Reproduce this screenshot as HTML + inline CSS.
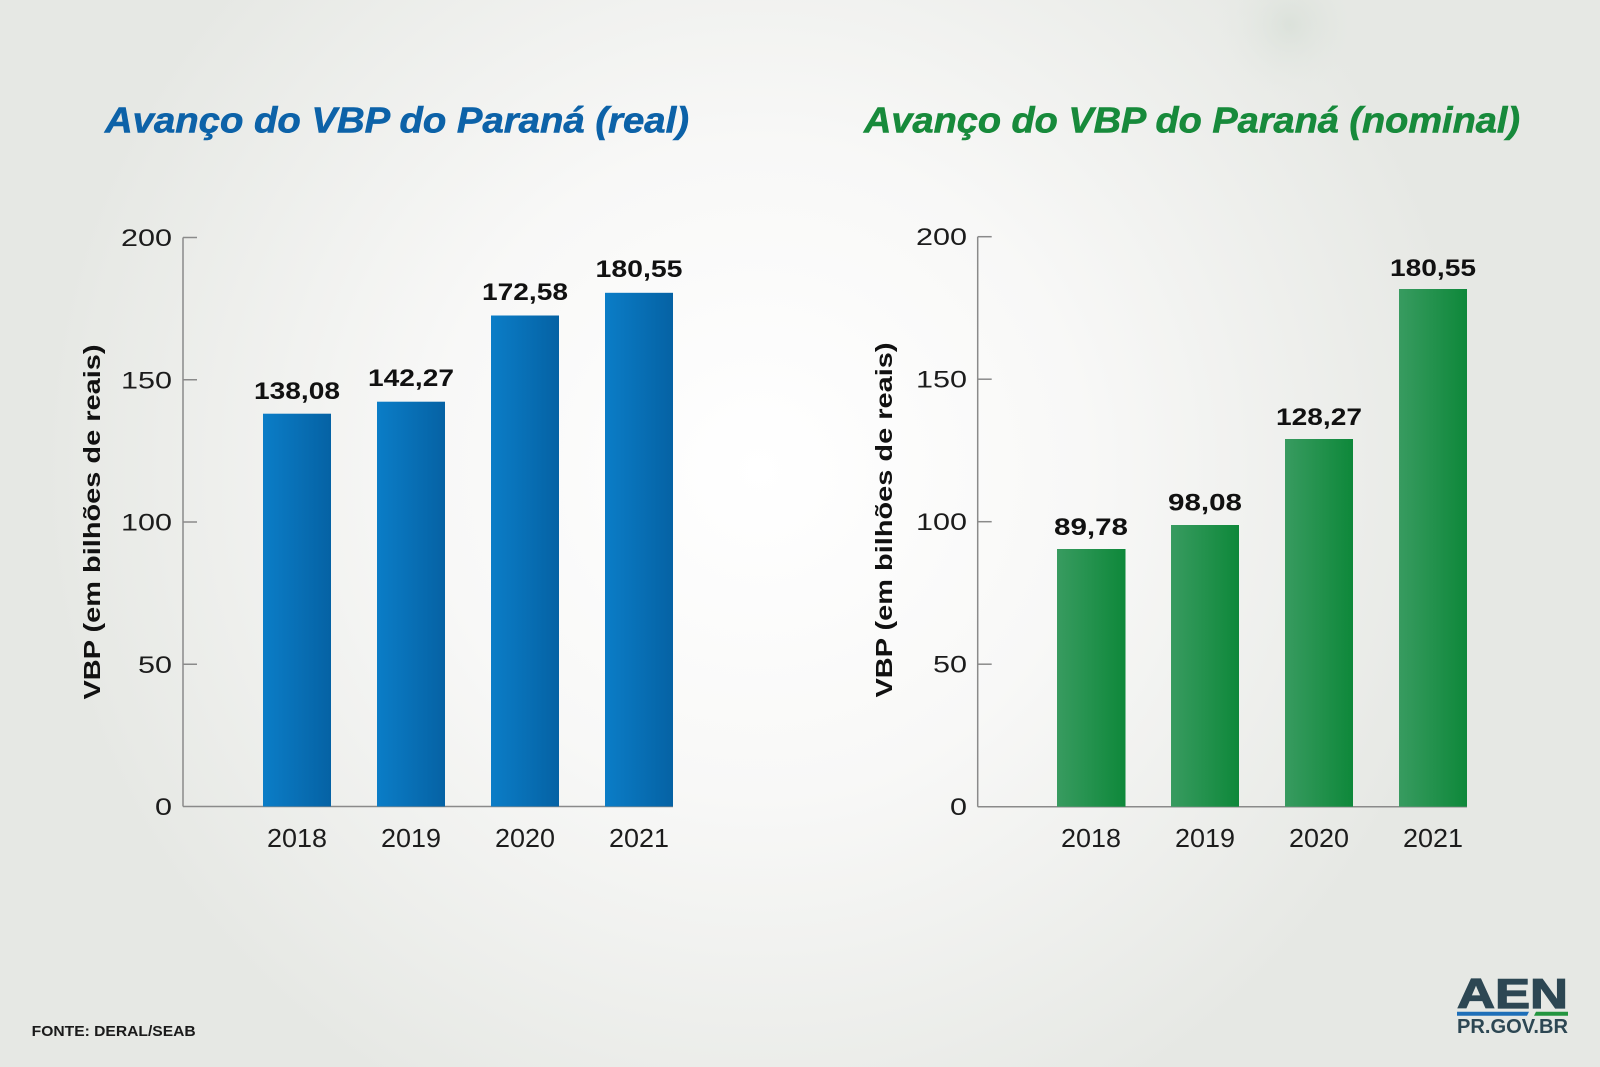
<!DOCTYPE html>
<html>
<head>
<meta charset="utf-8">
<style>
  html,body{margin:0;padding:0;background:#ecedea;}
  svg{display:block;}
  text{font-family:"Liberation Sans",sans-serif;}
</style>
</head>
<body>
<svg width="1600" height="1067" viewBox="0 0 1600 1067" xmlns="http://www.w3.org/2000/svg">
  <defs>
    <radialGradient id="bg" cx="760" cy="470" r="720" gradientUnits="userSpaceOnUse">
      <stop offset="0" stop-color="#ffffff"/>
      <stop offset="0.45" stop-color="#f8f8f7"/>
      <stop offset="1" stop-color="#e6e8e4"/>
    </radialGradient>
    <radialGradient id="blob" cx="1290" cy="25" r="80" gradientUnits="userSpaceOnUse">
      <stop offset="0" stop-color="#d3dcd3" stop-opacity="0.6"/>
      <stop offset="1" stop-color="#e9ece8" stop-opacity="0"/>
    </radialGradient>
    <linearGradient id="blue" x1="0" y1="0" x2="1" y2="0">
      <stop offset="0" stop-color="#0b7dc7"/>
      <stop offset="1" stop-color="#0562a4"/>
    </linearGradient>
    <linearGradient id="green" x1="0" y1="0" x2="1" y2="0">
      <stop offset="0" stop-color="#389b60"/>
      <stop offset="1" stop-color="#0e883a"/>
    </linearGradient>
  </defs>

  <rect x="0" y="0" width="1600" height="1067" fill="url(#bg)"/>
  <rect x="1180" y="0" width="220" height="110" fill="url(#blob)"/>

  <!-- Titles -->
  <text x="105" y="132.5" font-size="36" font-weight="bold" font-style="italic" fill="#0c62a8" stroke="#0c62a8" stroke-width="0.6" textLength="584" lengthAdjust="spacingAndGlyphs">Avanço do VBP do Paraná (real)</text>
  <text x="864" y="132.5" font-size="36" font-weight="bold" font-style="italic" fill="#178a3b" stroke="#178a3b" stroke-width="0.6" textLength="656" lengthAdjust="spacingAndGlyphs">Avanço do VBP do Paraná (nominal)</text>

  <!-- LEFT CHART -->
  <g>
    <text transform="translate(100,522) rotate(-90)" text-anchor="middle" font-size="23" font-weight="bold" fill="#111" textLength="355" lengthAdjust="spacingAndGlyphs">VBP (em bilhões de reais)</text>

    <g stroke="#8a8a8a" stroke-width="1.5" fill="none">
      <line x1="183" y1="237.5" x2="183" y2="806.5"/>
      <line x1="183" y1="806.5" x2="673" y2="806.5"/>
      <line x1="183" y1="237.5" x2="197" y2="237.5"/>
      <line x1="183" y1="379.75" x2="197" y2="379.75"/>
      <line x1="183" y1="522" x2="197" y2="522"/>
      <line x1="183" y1="664.25" x2="197" y2="664.25"/>
    </g>
    <g font-size="24" fill="#1c1c1c" text-anchor="end">
      <text x="172" y="246" textLength="51" lengthAdjust="spacingAndGlyphs">200</text>
      <text x="172" y="388.25" textLength="51" lengthAdjust="spacingAndGlyphs">150</text>
      <text x="172" y="530.5" textLength="51" lengthAdjust="spacingAndGlyphs">100</text>
      <text x="172" y="672.75" textLength="34" lengthAdjust="spacingAndGlyphs">50</text>
      <text x="172" y="815" textLength="17" lengthAdjust="spacingAndGlyphs">0</text>
    </g>

    <rect x="263" y="413.7" width="68" height="392.8" fill="url(#blue)"/>
    <rect x="377" y="401.7" width="68" height="404.8" fill="url(#blue)"/>
    <rect x="491" y="315.5" width="68" height="491" fill="url(#blue)"/>
    <rect x="605" y="292.8" width="68" height="513.7" fill="url(#blue)"/>

    <g font-size="24" font-weight="bold" fill="#111" text-anchor="middle">
      <text x="297" y="399" textLength="86" lengthAdjust="spacingAndGlyphs">138,08</text>
      <text x="411" y="386" textLength="86" lengthAdjust="spacingAndGlyphs">142,27</text>
      <text x="525" y="300" textLength="86" lengthAdjust="spacingAndGlyphs">172,58</text>
      <text x="639" y="277" textLength="87" lengthAdjust="spacingAndGlyphs">180,55</text>
    </g>

    <g font-size="26" fill="#1c1c1c" text-anchor="middle">
      <text x="297" y="847" textLength="60" lengthAdjust="spacingAndGlyphs">2018</text>
      <text x="411" y="847" textLength="60" lengthAdjust="spacingAndGlyphs">2019</text>
      <text x="525" y="847" textLength="60" lengthAdjust="spacingAndGlyphs">2020</text>
      <text x="639" y="847" textLength="60" lengthAdjust="spacingAndGlyphs">2021</text>
    </g>
  </g>

  <!-- RIGHT CHART -->
  <g>
    <text transform="translate(892,520) rotate(-90)" text-anchor="middle" font-size="23" font-weight="bold" fill="#111" textLength="355" lengthAdjust="spacingAndGlyphs">VBP (em bilhões de reais)</text>

    <g stroke="#8a8a8a" stroke-width="1.5" fill="none">
      <line x1="977.7" y1="236.7" x2="977.7" y2="806.7"/>
      <line x1="977.7" y1="806.7" x2="1467" y2="806.7"/>
      <line x1="977.7" y1="236.7" x2="991.7" y2="236.7"/>
      <line x1="977.7" y1="379.2" x2="991.7" y2="379.2"/>
      <line x1="977.7" y1="521.7" x2="991.7" y2="521.7"/>
      <line x1="977.7" y1="664.2" x2="991.7" y2="664.2"/>
    </g>
    <g font-size="24" fill="#1c1c1c" text-anchor="end">
      <text x="967" y="245.2" textLength="51" lengthAdjust="spacingAndGlyphs">200</text>
      <text x="967" y="387.7" textLength="51" lengthAdjust="spacingAndGlyphs">150</text>
      <text x="967" y="530.2" textLength="51" lengthAdjust="spacingAndGlyphs">100</text>
      <text x="967" y="672.7" textLength="34" lengthAdjust="spacingAndGlyphs">50</text>
      <text x="967" y="815.2" textLength="17" lengthAdjust="spacingAndGlyphs">0</text>
    </g>

    <rect x="1057" y="549" width="68.5" height="257.7" fill="url(#green)"/>
    <rect x="1171" y="525" width="68" height="281.7" fill="url(#green)"/>
    <rect x="1285" y="439" width="68" height="367.7" fill="url(#green)"/>
    <rect x="1399" y="289" width="68" height="517.7" fill="url(#green)"/>

    <g font-size="24" font-weight="bold" fill="#111" text-anchor="middle">
      <text x="1091" y="535" textLength="74" lengthAdjust="spacingAndGlyphs">89,78</text>
      <text x="1205" y="510.5" textLength="74" lengthAdjust="spacingAndGlyphs">98,08</text>
      <text x="1319" y="425" textLength="86" lengthAdjust="spacingAndGlyphs">128,27</text>
      <text x="1433" y="276" textLength="86" lengthAdjust="spacingAndGlyphs">180,55</text>
    </g>

    <g font-size="26" fill="#1c1c1c" text-anchor="middle">
      <text x="1091" y="847" textLength="60" lengthAdjust="spacingAndGlyphs">2018</text>
      <text x="1205" y="847" textLength="60" lengthAdjust="spacingAndGlyphs">2019</text>
      <text x="1319" y="847" textLength="60" lengthAdjust="spacingAndGlyphs">2020</text>
      <text x="1433" y="847" textLength="60" lengthAdjust="spacingAndGlyphs">2021</text>
    </g>
  </g>

  <!-- Footer -->
  <text x="31.7" y="1036" font-size="15" font-weight="bold" fill="#1a1a1a" textLength="164" lengthAdjust="spacingAndGlyphs">FONTE: DERAL/SEAB</text>

  <!-- AEN logo -->
  <text x="1457" y="1008" font-size="42" font-weight="bold" fill="#2d4753" stroke="#2d4753" stroke-width="1.2" textLength="111" lengthAdjust="spacingAndGlyphs">AEN</text>
  <polygon points="1457,1011.7 1529,1011.7 1527,1015.7 1457,1015.7" fill="#1e6fb8"/>
  <polygon points="1536,1011.7 1568,1011.7 1568,1015.7 1534,1015.7" fill="#23953f"/>
  <text x="1457" y="1033" font-size="20" font-weight="bold" fill="#2d4753" textLength="111" lengthAdjust="spacingAndGlyphs">PR.GOV.BR</text>
</svg>
</body>
</html>
